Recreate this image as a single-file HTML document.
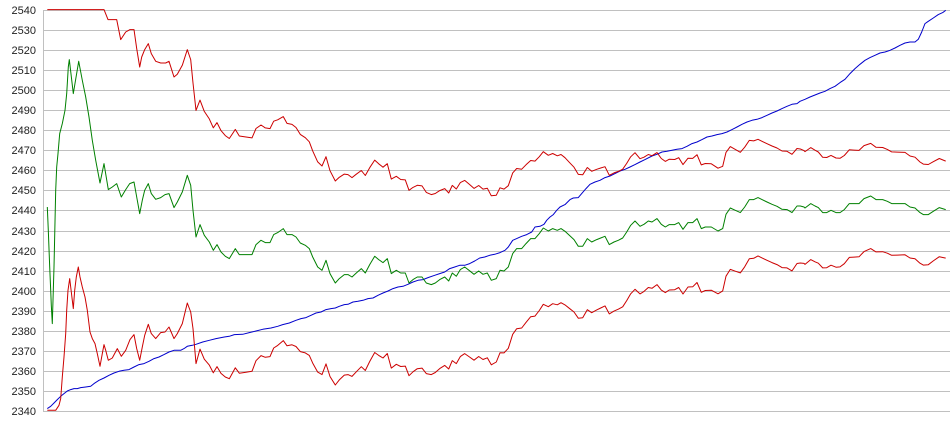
<!DOCTYPE html>
<html>
<head>
<meta charset="utf-8">
<style>
html,body{margin:0;padding:0;background:#fff;}
svg{display:block;}
text{font-family:"Liberation Sans",Arial,sans-serif;font-size:11px;fill:#222;}
</style>
</head>
<body>
<svg width="950" height="435" viewBox="0 0 950 435" xmlns="http://www.w3.org/2000/svg">
<rect x="0" y="0" width="950" height="435" fill="#fff"/>
<g stroke="#c0c0c0" stroke-width="1" shape-rendering="crispEdges">
<line x1="43" y1="10.5" x2="950" y2="10.5"/>
<line x1="43" y1="30.5" x2="950" y2="30.5"/>
<line x1="43" y1="50.5" x2="950" y2="50.5"/>
<line x1="43" y1="70.5" x2="950" y2="70.5"/>
<line x1="43" y1="90.5" x2="950" y2="90.5"/>
<line x1="43" y1="110.5" x2="950" y2="110.5"/>
<line x1="43" y1="130.5" x2="950" y2="130.5"/>
<line x1="43" y1="150.5" x2="950" y2="150.5"/>
<line x1="43" y1="170.5" x2="950" y2="170.5"/>
<line x1="43" y1="190.5" x2="950" y2="190.5"/>
<line x1="43" y1="210.5" x2="950" y2="210.5"/>
<line x1="43" y1="231.5" x2="950" y2="231.5"/>
<line x1="43" y1="251.5" x2="950" y2="251.5"/>
<line x1="43" y1="271.5" x2="950" y2="271.5"/>
<line x1="43" y1="291.5" x2="950" y2="291.5"/>
<line x1="43" y1="311.5" x2="950" y2="311.5"/>
<line x1="43" y1="331.5" x2="950" y2="331.5"/>
<line x1="43" y1="351.5" x2="950" y2="351.5"/>
<line x1="43" y1="371.5" x2="950" y2="371.5"/>
<line x1="43" y1="391.5" x2="950" y2="391.5"/>
<line x1="43" y1="411.5" x2="950" y2="411.5"/>
<line x1="43.5" y1="10" x2="43.5" y2="412"/>
</g>
<g text-anchor="end">
<text x="36" y="14">2540</text>
<text x="36" y="34">2530</text>
<text x="36" y="54">2520</text>
<text x="36" y="74">2510</text>
<text x="36" y="94">2500</text>
<text x="36" y="114">2490</text>
<text x="36" y="134">2480</text>
<text x="36" y="154">2470</text>
<text x="36" y="174">2460</text>
<text x="36" y="194">2450</text>
<text x="36" y="214">2440</text>
<text x="36" y="235">2430</text>
<text x="36" y="255">2420</text>
<text x="36" y="275">2410</text>
<text x="36" y="295">2400</text>
<text x="36" y="315">2390</text>
<text x="36" y="335">2380</text>
<text x="36" y="355">2370</text>
<text x="36" y="375">2360</text>
<text x="36" y="395">2350</text>
<text x="36" y="415">2340</text>
</g>
<g fill="none" stroke-width="1" stroke-linejoin="round" transform="translate(0,0.3)">
<polyline stroke="#0000cc" points="47.3,408.3 50.7,406 54,402.7 57.3,399.3 60.7,396 64,393.3 67.3,390.7 70.7,389.3 74,388.3 77.3,388.3 80.7,387.3 85.7,386.7 90.7,386 94,383.3 99,380 104,377.7 109,375 114,372.7 119,371 124,370 129,369.3 134,366.7 139,364.3 144,363.3 149,361 154,358.3 159,356.7 164,354.3 169,351.7 174,350 180.7,350 184,348.3 187.3,346 192.3,345 196,344 202.7,341.7 209.3,340 216,338.3 224.3,336.7 229.3,336 234.3,334.3 242.7,334 249.3,332.3 256,330.7 262.7,329 271,327.7 277.7,326 282.7,324.3 289.3,322.7 296,320 301,318.3 306,317.3 311,315 316,312.7 321,311.7 326,309.3 331,308.3 335.3,307.7 339.3,306 344.3,304.3 348,304 353,301.7 358,301 363,300 368,298.3 373,297.7 378,295 383,292.7 388,290.7 393,288.3 398,286.7 403,286 408,284 413,281.7 418,280 423,279.3 428,277.3 434.7,275 439.7,273.3 444.7,271.7 449.7,268.3 454.7,266.7 459.7,265 464.7,265 469.7,263.3 474.7,260.7 479.7,257.7 484.7,256.7 489.7,255 494.7,254 500,252.3 505,250 508.3,246.7 512.7,240 516.7,238.3 521.7,236 526.7,234.3 531.7,231.7 535,226.7 540,226 544,224 546.7,220 550,216.7 553.3,214.3 556.7,210 560,206.7 565,204.3 570,199.3 573.3,197.7 578.3,197.3 581.7,193.3 586,188.3 590,184 595,181.7 600,180 605,177.3 610,175.7 615,173.3 620,170.7 625,169 630,166.7 635,164.3 640,161.7 645,159.3 652,155.7 657,154 662,151.7 667,151 672,150 677,149 682,148.3 687,146 692,143.3 697,141.7 702,139.3 707,136.7 712,135.7 717,134.3 722,133.3 727,131.7 732,129.3 737,126.7 742,124 747,121.7 752,120 757,119 762,117.3 767,115 772,112.7 777,110.7 782,108.3 787,106 792,104 797,103.3 800,101 805,99 810,96.7 815,94.7 820,92.7 825,91 830,88.3 835,86 840,82.3 845,79 850,73.3 855,68.3 860,64 865,60 870,57.3 875,55 880,52.7 885,51.7 890,50 895,47.7 900,45 905,42.7 910,41.7 915,41.7 918.3,39 921.7,31.7 925,23.3 928.3,21 933.3,17.7 938.3,14.3 942.7,12.3 945.7,10"/>
<polyline stroke="#008000" points="47.3,206.7 48.3,230 49.7,266.7 50.7,290 51.3,305 52.3,323.3 54,266.7 55.7,190 56.7,166.7 58,153.3 59.7,133.3 62.3,123.3 65,110 66.7,93.3 68.3,66.7 69.3,59.3 73.3,93.3 78.7,61 82.3,80 85.7,96.7 89,116.7 92.3,140 95.7,160 100,182.7 104,163.3 108.3,189.3 112.3,186.7 116.7,183.3 121.3,196.7 125.7,189.3 129.7,183.3 134,181.7 137.3,200 139.7,213.3 142.3,200 144.7,190 148.3,183.3 151.3,193.3 155.7,199 160.7,197.3 165,194.3 169,193.3 174,207.3 177.3,201.7 182.3,191.7 187.3,175 190.7,185 193,210 196,236.7 200,224.3 204.3,235 209.3,241.7 213.3,250 217,244.3 221,251.7 225.3,256 229.3,258.3 233.3,251.7 235.3,248.3 239.3,254.3 246,254.3 252,254.3 256,244.3 261,240 265.3,242.3 270,242.3 273.7,234.3 277.7,232.3 283.3,228.3 287,234.3 292,234.3 296,236.7 300.3,242.7 305.3,245 309.3,248.3 312.7,256.7 317.7,266.7 322,270 326,260 330,273.3 335.3,282.7 339.3,278.3 344.3,274.3 348,274.3 352,276.7 356.3,272.7 361.3,268.3 365.3,272.7 369.7,264.3 374.7,256 378.7,259.3 383,262.3 387.3,258.3 391.3,273.3 396.3,270 400.7,272.7 405.3,272.7 409,282.7 413,279.3 417.3,276.7 422,276.7 426.3,282.7 431.3,284.3 435.3,282.7 439.7,279.3 444.7,276.7 448.7,280.7 452.3,272.7 456.3,276 460.3,269.3 464.7,266.7 469,270 474,274 478.7,270.7 483,274 487.3,272.7 491.3,280 496.3,278.3 500,270 504,270.7 508.3,266.7 512.7,253.3 516.7,248.3 521.7,248.3 526,243.3 530.7,238.3 535,238.3 539.3,233.3 543.3,227.7 548.3,230.7 552.7,228.3 557.3,230 561,228.3 565,231 569.3,235 574,239.3 578.3,246 582.7,246 587.3,238.3 591.7,241.7 596.7,239.3 600.7,237.7 605,236 609.3,244.3 614,241.7 618.3,240 622.7,237.7 626.7,231.7 630.7,225 635,220.7 640,226 644,224 648.3,220.7 652,221.7 657,218.3 661.3,224 665.3,226.7 669.3,224.3 674.7,224.3 678.7,222.3 683,229 688,222.3 692.7,222.3 697,218.3 701.3,228.3 705.3,226.7 711.3,226.7 718,230.7 722.7,228.3 726,214 730.3,207.7 735.3,210 740.3,212.3 744.7,206.7 749.3,199.3 753.7,199.3 758,197.3 762,199.3 767,201.7 772,204 777,206 782,209 787,209.3 792,212.3 797,205.7 800.3,205.7 804,206.7 805,207.7 810.7,203.3 815,205.7 818.3,207.3 822.7,212.3 826.7,212.3 831,210 836,212.3 840,212.3 844.3,209.3 849.3,203.3 854,203.3 859,203.3 864,198.3 870.7,195.7 876,199.3 882.7,199.3 887.3,201 891.7,203.3 897.3,203.3 905,203.3 910,206.7 915,207.7 920,212.3 923.3,214.3 928.3,214.3 933.3,211 939.3,207.3 945.7,209.3"/>
<polyline stroke="#cc0000" points="47.3,9.3 104,9.3 108,19.3 116.7,19.3 120.7,39.3 125.7,31.7 130,29.3 134,29.3 136.7,48.3 139.7,66.7 141.7,56.7 144.7,49.3 148.3,43.3 151.3,53.3 155.7,61 160.7,62.7 165.7,62.7 169,61 174,76.7 177.3,74 182.3,65 187.3,49.3 190.7,59.3 193,82.7 196,110.1 200,99.8 204.3,111.1 209.3,118.6 213.3,127.5 217,122.3 221,130.3 225.3,135.3 229.3,138.2 233.3,132.2 235.3,129.1 239.3,135.7 246,136.7 252,137.6 256,128.2 261,124.7 265.3,127.6 270,128.3 273.7,120.9 277.7,119.5 283.3,116.3 287,123.1 292,124.1 296,127.2 300.3,134.1 305.3,137.4 309.3,141.5 312.7,150.6 317.7,161.6 322,165.7 326,156.4 330,170.4 335.3,180.7 339.3,177 344.3,173.8 348,174.3 352,177.3 356.3,173.9 361.3,170.2 365.3,175.2 369.7,167.4 374.7,159.8 378.7,163.5 383,166.9 387.3,163.4 391.3,178.8 396.3,176 400.7,179.2 405.3,179.6 409,190 413,187.1 417.3,185 422,185.6 426.3,192.1 431.3,194.3 435.3,193.2 439.7,190.3 444.7,188.3 448.7,192.7 452.3,185.1 456.3,188.7 460.3,182.3 464.7,180.1 469,183.7 474,188.1 478.7,185.2 483,188.8 487.3,187.9 491.3,195.5 496.3,194.9 500,187.5 504,188.8 508.3,185.4 512.7,172.6 516.7,168.2 521.7,168.9 526,164.5 530.7,160.2 535,160.8 539.3,156.4 543.3,151.4 548.3,155 552.7,153.2 557.3,155.5 561,154.2 565,157.4 569.3,162 574,166.9 578.3,174.1 582.7,174.5 587.3,167.2 591.7,171 596.7,169 600.7,167.7 605,166.4 609.3,175 614,172.6 618.3,171.1 622.7,168.9 626.7,163.1 630.7,156.5 635,152.4 640,158.4 644,156.9 648.3,154.2 652,155.4 657,152.3 661.3,158.2 665.3,161.1 669.3,158.9 674.7,159.2 678.7,157.4 683,164.3 688,157.9 692.7,158.1 697,154.4 701.3,164.6 705.3,163.2 711.3,163.5 718,167.9 722.7,166 726,152.1 730.3,146.3 735.3,149.1 740.3,152 744.7,146.9 749.3,140.1 753.7,140.6 758,139 762,141 767,143.4 772,145.7 777,147.7 782,150.7 787,151 792,154 797,148.2 800.3,148.7 804,150.3 805,151.3 810.7,147.3 815,149.9 818.3,151.7 822.7,157 826.7,157.2 831,155.1 836,157.7 840,158 844.3,155.2 849.3,149.5 854,149.8 859,150.1 864,145.3 870.7,143.1 876,147 882.7,147.2 887.3,149.1 891.7,151.6 897.3,151.8 905,152.1 910,155.7 915,156.9 920,161.7 923.3,163.8 928.3,164.2 933.3,161.4 939.3,158.2 945.7,160.8"/>
<polyline stroke="#cc0000" points="47.3,410 55.7,410 59,405 60.7,398.3 62.3,376.7 64,356.7 65.7,333.3 66.7,310 68,290 69.7,278.3 70.7,286.7 72.3,300 73.3,308.3 74.7,290 76.3,276.7 78.3,266.7 80,276.7 82.3,286.7 85,296.7 87.3,310 90,331.7 92.3,338.3 95,343.3 97.3,353.3 100,366 102.3,353.3 104,344.3 105.7,350 108.3,360 112.3,357.7 117.3,348.3 121.3,356 125.7,350 130,339.3 134,334.3 136.7,348.3 139.7,360 142.3,346.7 144.7,335 148.3,324 151.3,333.3 155.7,338.3 160.7,332.3 165,331.7 169,326.7 174,338.3 177.3,333.3 182.3,323.3 187.3,302.7 190.7,311.7 193,328.3 196,363.3 200,348.8 204.3,358.9 209.3,364.8 213.3,372.5 217,366.3 221,373.1 225.3,376.7 229.3,378.4 233.3,371.2 235.3,367.5 239.3,372.9 246,371.9 252,371 256,360.4 261,355.3 265.3,357 270,356.3 273.7,347.7 277.7,345.1 283.3,340.3 287,345.5 292,344.5 296,346.2 300.3,351.3 305.3,352.6 309.3,355.1 312.7,362.8 317.7,371.8 322,374.3 326,363.6 330,376.2 335.3,384.7 339.3,379.6 344.3,374.8 348,374.3 352,376.1 356.3,371.5 361.3,366.4 365.3,370.2 369.7,361.2 374.7,352.2 378.7,355.1 383,357.7 387.3,353.2 391.3,367.8 396.3,364 400.7,366.2 405.3,365.8 409,375.4 413,371.5 417.3,368.4 422,367.8 426.3,373.3 431.3,374.3 435.3,372.2 439.7,368.3 444.7,365.1 448.7,368.7 452.3,360.3 456.3,363.3 460.3,356.3 464.7,353.3 469,356.3 474,359.9 478.7,356.2 483,359.2 487.3,357.5 491.3,364.5 496.3,361.7 500,352.5 504,352.6 508.3,348 512.7,334 516.7,328.4 521.7,327.7 526,322.1 530.7,316.4 535,315.8 539.3,310.2 543.3,304 548.3,306.4 552.7,303.4 557.3,304.5 561,302.4 565,304.6 569.3,308 574,311.7 578.3,317.9 582.7,317.5 587.3,309.4 591.7,312.4 596.7,309.6 600.7,307.7 605,305.6 609.3,313.6 614,310.8 618.3,308.9 622.7,306.5 626.7,300.3 630.7,293.5 635,289 640,293.6 644,291.1 648.3,287.2 652,288 657,284.3 661.3,289.8 665.3,292.3 669.3,289.7 674.7,289.4 678.7,287.2 683,293.7 688,286.7 692.7,286.5 697,282.2 701.3,292 705.3,290.2 711.3,289.9 718,293.5 722.7,290.6 726,275.9 730.3,269.1 735.3,270.9 740.3,272.6 744.7,266.5 749.3,258.5 753.7,258 758,255.6 762,257.6 767,260 772,262.3 777,264.3 782,267.3 787,267.6 792,270.6 797,263.2 800.3,262.7 804,263.1 805,264.1 810.7,259.3 815,261.5 818.3,262.9 822.7,267.6 826.7,267.4 831,264.9 836,266.9 840,266.6 844.3,263.4 849.3,257.1 854,256.8 859,256.5 864,251.3 870.7,248.3 876,251.6 882.7,251.4 887.3,252.9 891.7,255 897.3,254.8 905,254.5 910,257.7 915,258.5 920,262.9 923.3,264.8 928.3,264.4 933.3,260.6 939.3,256.4 945.7,257.8"/>
</g>
</svg>
</body>
</html>
